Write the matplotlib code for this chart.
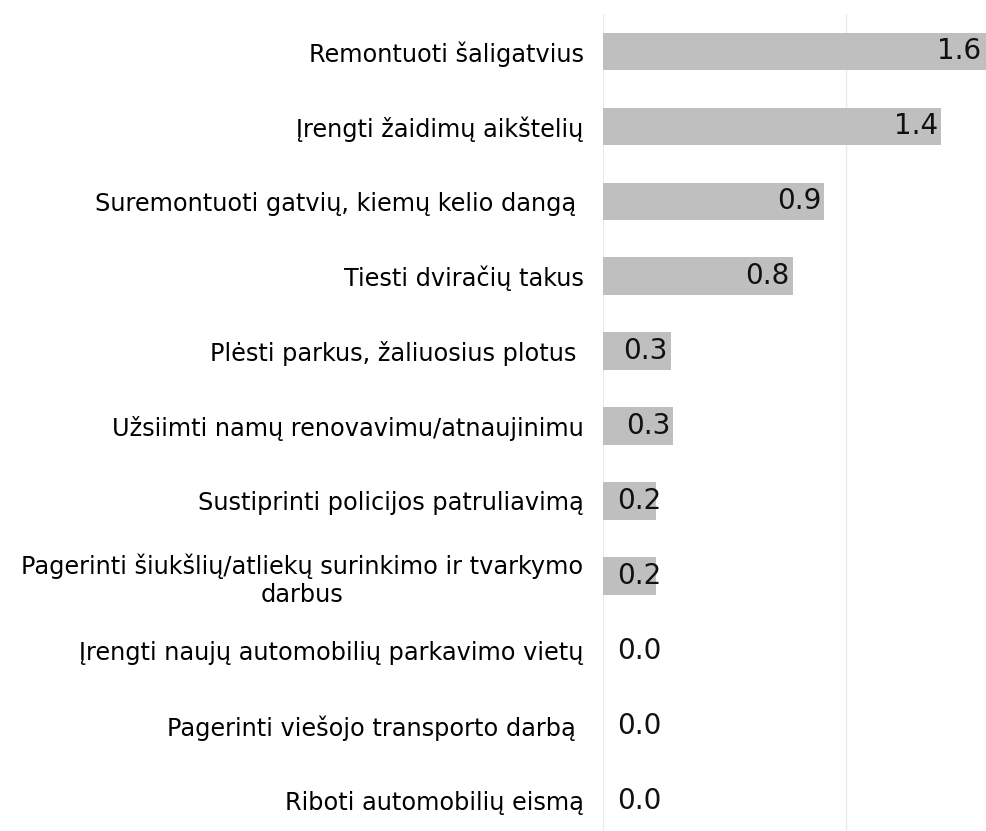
import matplotlib
matplotlib.use("Agg")
import matplotlib.pyplot as plt

categories = [
    "Remontuoti šaligatvius",
    "Įrengti žaidimų aikštelių",
    "Suremontuoti gatvių, kiemų kelio dangą ",
    "Tiesti dviračių takus",
    "Plėsti parkus, žaliuosius plotus ",
    "Užsiimti namų renovavimu/atnaujinimu",
    "Sustiprinti policijos patruliavimą",
    "Pagerinti šiukšlių/atliekų surinkimo ir tvarkymo\ndarbus",
    "Įrengti naujų automobilių parkavimo vietų",
    "Pagerinti viešojo transporto darbą ",
    "Riboti automobilių eismą",
]
values = [1.60, 1.39, 0.91, 0.78, 0.28, 0.29, 0.22, 0.22, 0.0, 0.0, 0.0]

fig = plt.figure(figsize=(9.87, 8.31), dpi=100)
# axes: left edge at the zero line, top a bit below the figure top
ax = fig.add_axes([603 / 987, -7 / 831, 1 - 603 / 987, 824 / 831])

xmax = 1.58
pos = list(range(len(categories)))
ax.barh(pos, values, height=0.5, color="#bfbfbf", zorder=2)
ax.set_ylim(len(categories) - 0.5, -0.5)
ax.set_xlim(0, xmax)

for p, v in zip(pos, values):
    if v > 0.25:
        x = min(v, xmax - 0.01) - 0.013
        ax.text(x, p, f"{v:.1f}", ha="right", va="center", fontsize=20, color="#111111", zorder=3)
    else:
        ax.text(0.058, p, f"{v:.1f}", ha="left", va="center", fontsize=20, color="#111111", zorder=3)

ax.set_yticks(pos)
ax.set_yticklabels(categories, fontsize=17.3, multialignment="center")
ax.tick_params(axis="y", length=0, pad=14)
ax.set_xticks([0, 1])
ax.tick_params(axis="x", length=0, labelbottom=False)
ax.grid(axis="x", color="#ebebeb", linewidth=1, zorder=0)
for s in ax.spines.values():
    s.set_visible(False)

fig.savefig("out.png", dpi=100)
